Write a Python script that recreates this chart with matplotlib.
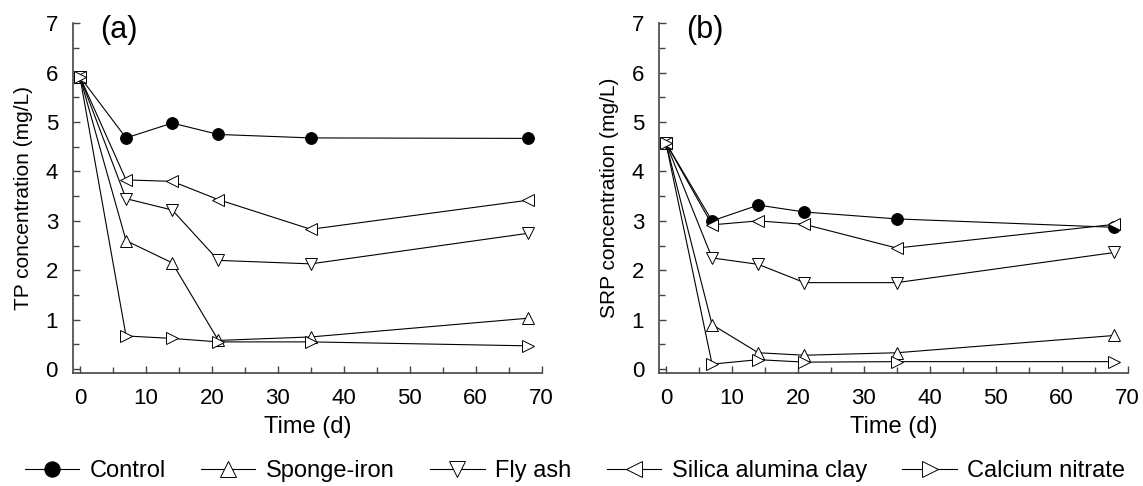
import matplotlib
matplotlib.use("Agg")
import matplotlib.pyplot as plt
from matplotlib.ticker import MultipleLocator

plt.rcParams["font.family"] = ["Liberation Sans", "DejaVu Sans"]

days = [0, 7, 14, 21, 35, 68]
series_names = ["Control", "Sponge-iron", "Fly ash", "Silica alumina clay", "Calcium nitrate"]

tp_control = [5.92, 4.68, 4.98, 4.75, 4.68, 4.67]
tp_sponge = [5.92, 2.60, 2.15, 0.58, 0.65, 1.03]
tp_flyash = [5.92, 3.45, 3.22, 2.20, 2.13, 2.75]
tp_silica = [5.92, 3.83, 3.80, 3.43, 2.83, 3.42]
tp_calcium = [5.92, 0.67, 0.62, 0.55, 0.55, 0.47]

srp_control = [4.58, 3.00, 3.32, 3.18, 3.04, 2.87]
srp_sponge = [4.58, 0.90, 0.33, 0.28, 0.33, 0.68]
srp_flyash = [4.58, 2.25, 2.12, 1.75, 1.75, 2.36]
srp_silica = [4.58, 2.92, 3.00, 2.93, 2.45, 2.93]
srp_calcium = [4.58, 0.10, 0.19, 0.14, 0.15, 0.15]

markers = ["o", "^", "v", "<", ">"]
faces = ["black", "white", "white", "white", "white"]

fig = plt.figure(figsize=(11.43, 4.86), dpi=100)
ax_a = fig.add_axes([0.0641, 0.2325, 0.4098, 0.7195])
ax_b = fig.add_axes([0.5768, 0.2325, 0.4098, 0.7195])

panels = [
    (ax_a, [tp_control, tp_sponge, tp_flyash, tp_silica, tp_calcium], "TP concentration (mg/L)", "(a)"),
    (ax_b, [srp_control, srp_sponge, srp_flyash, srp_silica, srp_calcium], "SRP concentration (mg/L)", "(b)"),
]

handles = []
for ax, data, ylabel, tag in panels:
    for vals, name, m, fc in zip(data, series_names, markers, faces):
        ln, = ax.plot(days, vals, color="black", lw=0.8, marker=m, markersize=8.5,
                      markerfacecolor=fc, markeredgecolor="black", markeredgewidth=0.7,
                      label=name)
        if ax is ax_a:
            handles.append(ln)
    ax.set_xlim(-1.0, 70)
    ax.set_ylim(-0.08, 7)
    ax.xaxis.set_major_locator(MultipleLocator(10))
    ax.xaxis.set_minor_locator(MultipleLocator(5))
    ax.yaxis.set_major_locator(MultipleLocator(1))
    ax.yaxis.set_minor_locator(MultipleLocator(0.5))
    ax.tick_params(which="both", direction="in", labelsize=16, color="#444444", width=1)
    ax.tick_params(axis="x", which="major", length=5, pad=11)
    ax.tick_params(axis="y", which="major", length=5, pad=11)
    ax.tick_params(which="minor", length=4)
    for s in ["top", "right"]:
        ax.spines[s].set_visible(False)
    for s in ["left", "bottom"]:
        ax.spines[s].set_color("#444444")
        ax.spines[s].set_linewidth(1.2)
    ax.set_xlabel("Time (d)", fontsize=17, labelpad=5)
    ax.set_ylabel(ylabel, fontsize=15, labelpad=9)
    ax.text(0.057, 1.025, tag, transform=ax.transAxes, fontsize=22, va="top", ha="left")

fig.legend(handles=handles, loc="center", bbox_to_anchor=(0.503, 0.03), ncol=5,
           frameon=False, fontsize=17, handlelength=2.3, columnspacing=1.5,
           handletextpad=0.45, markerscale=1.3)

fig.savefig("out.png", dpi=100)
